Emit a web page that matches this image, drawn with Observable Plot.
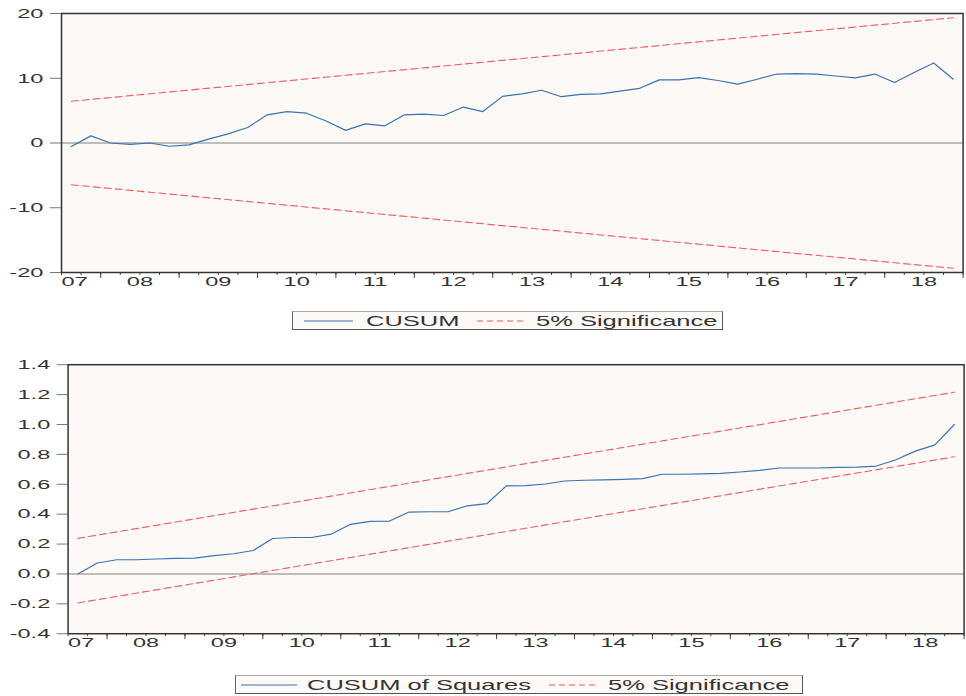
<!DOCTYPE html>
<html><head><meta charset="utf-8">
<script src="https://cdn.jsdelivr.net/npm/d3@7"></script>
<script src="https://cdn.jsdelivr.net/npm/@observablehq/plot@0.6"></script>
<style>
html,body{margin:0;padding:0;width:966px;height:696px;overflow:hidden;background:#fff;}
#page{position:relative;width:966px;height:696px;overflow:hidden;font-family:"Liberation Sans",Arial,sans-serif;color:#333;}
.chart{position:absolute;left:0;}
.legend{position:absolute;box-sizing:border-box;border:1px solid #555;border-top-color:#aaa;border-left-color:#666;background:#FDF9F6;}
.lg{position:absolute;white-space:nowrap;font-size:15px;line-height:15px;transform-origin:0 50%;transform:scaleX(1.7);color:#333;}
.sw{position:absolute;}
</style></head><body><div id="page"></div>
<script>
// ---- data ----
const quarters = 46; // 2007Q1 .. 2018Q2
const yearLabels = ["07","08","09","10","11","12","13","14","15","16","17","18"];
const cusum = [-0.55, 1.1, 0.0, -0.2, 0.0, -0.5, -0.3, 0.6, 1.4, 2.4,
  4.35, 4.85, 4.6, 3.4, 1.95, 2.95, 2.65, 4.35, 4.45, 4.25,
  5.55, 4.85, 7.2, 7.6, 8.15, 7.15, 7.5, 7.6, 8.0, 8.45,
  9.75, 9.75, 10.1, 9.65, 9.1, 9.85, 10.65, 10.7, 10.65, 10.35,
  10.05, 10.65, 9.35, 10.9, 12.35, 9.85];
const cusumUpper = [6.45, 19.35];
const cusumLower = [-6.45, -19.35];
const cusumSq = [0.0, 0.073, 0.095, 0.095, 0.1, 0.104, 0.106, 0.122, 0.135, 0.157,
  0.237, 0.244, 0.244, 0.266, 0.332, 0.352, 0.354, 0.414, 0.416, 0.416,
  0.456, 0.47, 0.589, 0.591, 0.602, 0.622, 0.627, 0.629, 0.633, 0.638,
  0.667, 0.667, 0.669, 0.673, 0.682, 0.693, 0.709, 0.709, 0.709, 0.713,
  0.715, 0.722, 0.764, 0.822, 0.864, 1.0];
const sqUpper = [0.238, 1.216];
const sqLower = [-0.194, 0.784];
const yTicksTop = [-20, -10, 0, 10, 20];
const yTicksBottom = [-0.4, -0.2, 0.0, 0.2, 0.4, 0.6, 0.8, 1.0, 1.2, 1.4];
const legendTop = ["CUSUM", "5% Significance"];
const legendBottom = ["CUSUM of Squares", "5% Significance"];

// ---- style ----
const BLUE = "#3B73B2", RED = "#F0585D", BG = "#FDF9F6", FONT = "Liberation Sans, Arial, sans-serif";

function stretch(svg, s) {
  svg.querySelectorAll("text").forEach(t => {
    const x = parseFloat(t.getAttribute("x")) || 0;
    const tr = t.getAttribute("transform") || "";
    t.setAttribute("transform", `${tr} translate(${x},0) scale(${s},1) translate(${-x},0)`);
  });
}

function chart({values, upper, lower, yDomain, yTicks, fmt, width, height, mt, mb, ml, mr}) {
  const pts = values.map((v, i) => ({x: i + 0.5, y: v}));
  const bounds = [{x: 0.5, u: upper[0], l: lower[0]}, {x: quarters - 0.5, u: upper[1], l: lower[1]}];
  const yearPos = yearLabels.map((d, i) => ({label: d, x: i * 4}));
  const svg = Plot.plot({
    width, height, marginTop: mt, marginBottom: mb, marginLeft: ml, marginRight: mr,
    x: {domain: [0, quarters], axis: null},
    y: {domain: yDomain, axis: null},
    style: {fontFamily: FONT, fontSize: "13px", color: "#333", background: "transparent", overflow: "visible"},
    marks: [
      Plot.frame({fill: BG, stroke: null}),
      Plot.ruleY([0], {stroke: "#A8A8A8", strokeWidth: 1.6}),
      Plot.line(bounds, {x: "x", y: "u", stroke: RED, strokeWidth: 1.1, strokeDasharray: "7,4"}),
      Plot.line(bounds, {x: "x", y: "l", stroke: RED, strokeWidth: 1.1, strokeDasharray: "7,4"}),
      Plot.line(pts, {x: "x", y: "y", stroke: BLUE, strokeWidth: 1.2}),
      Plot.axisY(yTicks, {tickSize: 11, tickPadding: 7, tickFormat: fmt, stroke: "#777", fill: "#333", fontSize: 13.5, label: null}),
      Plot.axisX(d3.range(0, quarters + 1), {tickSize: 3, tickFormat: () => "", stroke: "#444", label: null}),
      Plot.axisX(d3.range(2, quarters + 1, 4), {tickSize: 6, tickFormat: () => "", stroke: "#444", label: null}),
      Plot.text(yearPos.slice(0, 1), {x: "x", text: "label", frameAnchor: "bottom", dy: 13, textAnchor: "start", fill: "#333", fontSize: 13.5}),
      Plot.text(yearPos.slice(1), {x: "x", text: "label", frameAnchor: "bottom", dy: 13, fill: "#333", fontSize: 13.5}),
      Plot.frame({stroke: "#333", strokeWidth: 1.5})
    ]
  });
  stretch(svg, 1.75);
  return svg;
}

const page = document.getElementById("page");

const chartTop = chart({values: cusum, upper: cusumUpper, lower: cusumLower, yDomain: [-20, 20], yTicks: yTicksTop,
  fmt: d => String(d), width: 966, height: 300, mt: 13, mb: 28, ml: 61, mr: 3.4});
chartTop.classList.add("chart"); chartTop.style.top = "0px";
page.appendChild(chartTop);

const chartBot = chart({values: cusumSq, upper: sqUpper, lower: sqLower, yDomain: [-0.4, 1.4], yTicks: yTicksBottom,
  fmt: d => d.toFixed(1), width: 972, height: 310, mt: 14.3, mb: 25, ml: 68, mr: 2.4});
chartBot.classList.add("chart"); chartBot.style.top = "350px";
page.appendChild(chartBot);

function legend({box, items}) {
  const b = document.createElement("div");
  b.className = "legend";
  Object.assign(b.style, {left: box[0] + "px", top: box[1] + "px", width: box[2] + "px", height: box[3] + "px"});
  page.appendChild(b);
  const cy = box[1] + box[3] / 2;
  items.forEach(it => {
    const s = d3.create("svg").attr("class", "sw").attr("width", it.x2 - it.x1).attr("height", 4)
      .style("left", it.x1 + "px").style("top", (cy - 2) + "px");
    s.append("line").attr("x1", 0).attr("x2", it.x2 - it.x1).attr("y1", 2).attr("y2", 2)
      .attr("stroke", it.color).attr("stroke-width", 1.2).attr("stroke-dasharray", it.dash || null);
    page.appendChild(s.node());
    const t = document.createElement("div");
    t.className = "lg"; t.textContent = it.label;
    t.style.left = it.tx + "px"; t.style.top = (cy - 7.5) + "px";
    page.appendChild(t);
  });
}

legend({box: [292, 311, 431, 19], items: [
  {label: legendTop[0], color: BLUE, x1: 304, x2: 353, tx: 366},
  {label: legendTop[1], color: RED, dash: "6,4", x1: 477, x2: 525, tx: 536}
]});
legend({box: [235, 675, 568, 19], items: [
  {label: legendBottom[0], color: BLUE, x1: 241, x2: 297, tx: 307},
  {label: legendBottom[1], color: RED, dash: "6,4", x1: 549, x2: 598, tx: 608}
]});
</script></body></html>
